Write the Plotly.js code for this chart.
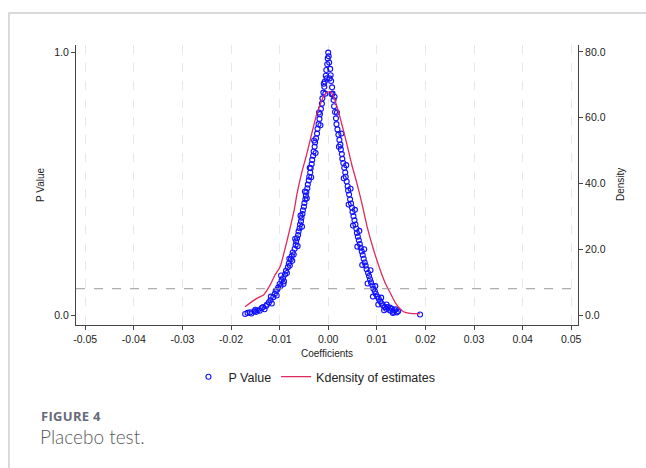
<!DOCTYPE html>
<html>
<head>
<meta charset="utf-8">
<script src="https://cdn.plot.ly/plotly-3.0.1.min.js"></script>
<style>
html,body{margin:0;padding:0;background:#fff;width:646px;height:468px;overflow:hidden;}
#frame{position:absolute;left:8px;top:12px;width:640px;height:460px;border-left:2px solid #d9d9d9;border-top:2px solid #d9d9d9;}
#chart{position:absolute;left:0;top:0;width:646px;height:468px;}
#cap1{position:absolute;left:41px;top:410px;line-height:13px;font-family:"Open Sans",sans-serif;font-weight:700;font-size:13px;color:#676a78;letter-spacing:0.3px;}
#cap2{position:absolute;left:40px;top:428px;line-height:18px;font-family:"Lato","Open Sans",sans-serif;font-weight:300;font-size:19px;color:#5a5a5a;}
</style>
</head>
<body>
<div id="frame"></div>
<div id="chart"></div>
<div id="cap1">FIGURE 4</div>
<div id="cap2">Placebo test.</div>
<script>
// Placebo coefficients and their p-values
const coefs = [
-0.0171,-0.0166,-0.0161,-0.0158,-0.0152,-0.0148,-0.0145,-0.0141,-0.0137,-0.0134,-0.0131,-0.0126,-0.0122,-0.0119,-0.0116,-0.0113,
-0.0110,-0.0108,-0.0106,-0.0103,-0.0100,-0.0098,-0.0096,-0.0093,-0.0091,-0.0089,-0.0087,-0.0085,-0.0083,-0.0081,-0.0079,-0.0077,
-0.0075,-0.0073,-0.0071,-0.0069,-0.0067,-0.0066,-0.0064,-0.0062,-0.0061,-0.0059,-0.0058,-0.0056,-0.0055,-0.0053,-0.0052,-0.0050,
-0.0049,-0.0047,-0.0046,-0.0045,-0.0043,-0.0042,-0.0040,-0.0039,-0.0037,-0.0036,-0.0034,-0.0033,-0.0031,-0.0030,-0.0028,-0.0027,
-0.0025,-0.0023,-0.0022,-0.0020,-0.0018,-0.0017,-0.0015,-0.0013,-0.0012,-0.0010,-0.0008,-0.0007,-0.0005,-0.0004,-0.0002,-0.0001,
0.0000,
0.0001,0.0002,0.0004,0.0005,0.0006,0.0008,0.0009,0.0011,0.0012,0.0014,0.0016,0.0017,0.0019,0.0021,0.0023,0.0025,0.0026,0.0028,
0.0029,0.0031,0.0033,0.0035,0.0036,0.0038,0.0040,0.0041,0.0043,0.0045,0.0047,0.0049,0.0050,0.0052,0.0054,0.0056,0.0058,0.0059,
0.0061,0.0063,0.0065,0.0067,0.0069,0.0071,0.0073,0.0075,0.0077,0.0079,0.0082,0.0084,0.0086,0.0088,0.0091,0.0093,0.0096,0.0098,
0.0101,0.0104,0.0107,0.0110,0.0113,0.0116,0.0119,0.0122,0.0125,0.0128,0.0131,0.0134,0.0137,0.0141,0.0144,0.0189,
-0.0097,-0.0092,-0.0080,-0.0074,-0.0068,-0.0063,-0.0057,-0.0054,-0.0048,-0.0044,-0.0038,-0.0035,-0.0029,-0.0026,-0.0019,-0.0016,
-0.0009,-0.0006,-0.0003,-0.0150,-0.0128,-0.0118,-0.0105,
0.0003,0.0007,0.0013,0.0018,0.0022,0.0027,0.0032,0.0037,0.0042,0.0046,0.0051,0.0055,0.0060,0.0064,0.0070,0.0074,
0.0081,0.0087,0.0092,0.0097,0.0103,0.0109,0.0115,0.0120,0.0127,0.0133,0.0139
];
const pValues = [
0.004,0.008,0.010,0.006,0.014,0.012,0.018,0.016,0.026,0.030,0.022,0.040,0.048,0.056,0.044,0.068,
0.080,0.092,0.074,0.104,0.118,0.110,0.132,0.140,0.128,0.154,0.168,0.160,0.182,0.196,0.188,0.212,
0.224,0.238,0.230,0.252,0.266,0.280,0.292,0.304,0.318,0.330,0.344,0.356,0.370,0.384,0.398,0.412,
0.426,0.440,0.454,0.468,0.482,0.496,0.512,0.526,0.542,0.558,0.574,0.590,0.606,0.622,0.640,0.656,
0.672,0.690,0.708,0.726,0.746,0.764,0.784,0.804,0.824,0.846,0.868,0.888,0.910,0.932,0.954,0.976,
0.998,
0.984,0.960,0.936,0.912,0.890,0.866,0.842,0.818,0.794,0.772,0.748,0.726,0.706,0.686,0.666,0.648,0.630,0.612,
0.594,0.578,0.560,0.542,0.526,0.508,0.490,0.474,0.458,0.440,0.424,0.408,0.392,0.376,0.360,0.344,0.328,0.312,
0.298,0.284,0.270,0.256,0.242,0.228,0.214,0.200,0.188,0.174,0.160,0.148,0.136,0.124,0.112,0.100,0.090,0.080,
0.070,0.062,0.052,0.044,0.036,0.030,0.024,0.030,0.020,0.016,0.024,0.012,0.018,0.010,0.014,0.002,
0.150,0.118,0.214,0.206,0.290,0.262,0.378,0.336,0.470,0.444,0.560,0.524,0.664,0.616,0.770,0.722,
0.880,0.842,0.900,0.020,0.034,0.070,0.096,
0.900,0.840,0.830,0.770,0.640,0.690,0.520,0.570,0.420,0.480,0.340,0.400,0.260,0.320,0.190,0.250,
0.120,0.170,0.070,0.110,0.040,0.066,0.018,0.040,0.028,0.008,0.022
];
// Kernel density of the estimates (right axis)
const kdX = [-0.0171,-0.0155,-0.0140,-0.0133,-0.0120,-0.0110,-0.0099,-0.0090,-0.0080,-0.0070,-0.0064,-0.0055,-0.0044,-0.0035,-0.0023,-0.0015,-0.0010,-0.0004,0.0004,0.0010,0.0018,0.0028,0.0038,0.0048,0.0059,0.0070,0.0080,0.0093,0.0107,0.0118,0.0128,0.0140,0.0155,0.0170,0.0189];
const kdY = [2.5,4.3,5.6,6.1,9.0,12.0,14.7,19.5,25.5,32.0,37.0,43.0,49.0,54.5,61.4,64.5,66.4,67.5,67.9,66.8,63.4,58.0,52.2,46.0,40.1,33.5,26.9,20.0,13.7,9.5,6.6,3.3,1.0,0.5,0.4];
const xTicks = [-0.05,-0.04,-0.03,-0.02,-0.01,0,0.01,0.02,0.03,0.04,0.05];
const xTickText = ["-0.05","-0.04","-0.03","-0.02","-0.01","0.00","0.01","0.02","0.03","0.04","0.05"];
const pTicks = [0,1];
const pTickText = ["0.0","1.0"];
const dTicks = [0,20,40,60,80];
const dTickText = ["0.0","20.0","40.0","60.0","80.0"];
const pThreshold = 0.1;

const font = "Liberation Sans, Arial, sans-serif";
const traces = [
  {x: coefs, y: pValues, type: "scatter", mode: "markers", name: "P Value",
   marker: {symbol: "circle-open", size: 5, color: "#1010ff", line: {width: 1.1, color: "#1010ff"}}, yaxis: "y"},
  {x: kdX, y: kdY, type: "scatter", mode: "lines", name: "Kdensity of estimates",
   line: {color: "#dc2a5c", width: 1.3, shape: "spline", smoothing: 0.8}, yaxis: "y2"}
];
const axisCommon = {showline: true, linecolor: "#444", linewidth: 1, ticks: "outside", ticklen: 4, tickcolor: "#444",
  tickfont: {family: font, size: 10.5, color: "#222"}, zeroline: false};
const layout = {
  width: 646, height: 468,
  margin: {l: 76, r: 68, t: 45, b: 143},
  paper_bgcolor: "rgba(0,0,0,0)", plot_bgcolor: "rgba(0,0,0,0)",
  showlegend: true,
  legend: {orientation: "h", x: 0.475, xanchor: "center", y: -0.186, yanchor: "middle",
    font: {family: font, size: 12.5, color: "#222"}, itemwidth: 30, tracegroupgap: 0},
  xaxis: Object.assign({}, axisCommon, {range: [-0.0519, 0.0514], tickvals: xTicks, ticktext: xTickText,
    showgrid: true, gridcolor: "#e8e8e8", griddash: "dash", gridwidth: 1}),
  yaxis: Object.assign({}, axisCommon, {range: [-0.038, 1.027], tickvals: pTicks, ticktext: pTickText, showgrid: false}),
  yaxis2: Object.assign({}, axisCommon, {range: [-3.04, 82.1], tickvals: dTicks, ticktext: dTickText, showgrid: false,
    overlaying: "y", side: "right"}),
  shapes: [{type: "line", xref: "paper", x0: 0, x1: 1, yref: "y", y0: pThreshold, y1: pThreshold,
    line: {color: "#999", width: 1, dash: "dash"}}],
  annotations: [
    {text: "P Value", xref: "paper", yref: "paper", x: -0.0717, y: 0.5, xanchor: "center", yanchor: "middle",
     showarrow: false, textangle: -90, font: {family: font, size: 10, color: "#222"}},
    {text: "Density", xref: "paper", yref: "paper", x: 1.0837, y: 0.5, xanchor: "center", yanchor: "middle",
     showarrow: false, textangle: -90, font: {family: font, size: 10, color: "#222"}},
    {text: "Coefficients", xref: "paper", yref: "paper", x: 0.5, y: -0.1, xanchor: "center", yanchor: "middle",
     showarrow: false, font: {family: font, size: 10, color: "#222"}}
  ]
};
Plotly.newPlot("chart", traces, layout, {displayModeBar: false, staticPlot: true});
</script>
</body>
</html>
